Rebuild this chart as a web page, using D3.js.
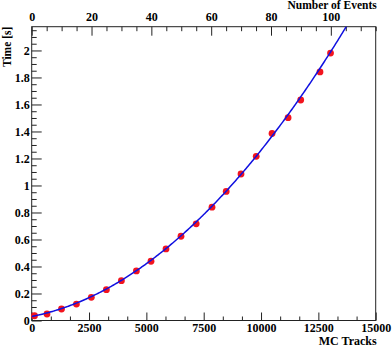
<!DOCTYPE html>
<html><head><meta charset="utf-8">
<script src="https://cdn.jsdelivr.net/npm/d3@7"></script>
<style>body{margin:0;background:#fff}svg{display:block}</style>
</head><body><svg id="c" width="392" height="352"></svg>
<script>
// ---- data ----
const mcTracks = [122, 667, 1300, 1950, 2600, 3257, 3911, 4565, 5202, 5856, 6510, 7172, 7862, 8481, 9127, 9790, 10480, 11180, 11730, 12570, 13030];
const timeSec  = [0.035, 0.048, 0.085, 0.122, 0.172, 0.228, 0.295, 0.367, 0.439, 0.530, 0.624, 0.716, 0.839, 0.956, 1.085, 1.216, 1.385, 1.502, 1.633, 1.841, 1.981];
const fitCoef = [0.03, 0.0332e-3, 0.00899e-6]; // pol2 fit: p0 + p1*x + p2*x^2
const xTicks = [0, 2500, 5000, 7500, 10000, 12500, 15000];
const yTicks = [0, 0.2, 0.4, 0.6, 0.8, 1, 1.2, 1.4, 1.6, 1.8, 2];
const topTicks = [0, 20, 40, 60, 80, 100];
const xTitle = "MC Tracks", yTitle = "Time  [s]", topTitle = "Number of Events";

const L = 31.7, R = 375.7, T = 26.7, B = 320.5;
const svg = d3.select("#c");
const font = "'Liberation Serif', 'Times New Roman', Times, serif";
const x = d3.scaleLinear().domain([0, 15000]).range([L, R]);
const y = d3.scaleLinear().domain([0, 2.176]).range([B, T]);
const xTop = d3.scaleLinear().domain([0, 115]).range([L, R]);

const fmt = d => String(+(+d).toFixed(1));
function styleAxis(g){
  g.attr("font-family", null).attr("font-size", null);
  g.select(".domain").remove();
  g.selectAll("line").attr("stroke", "#222").attr("stroke-width", 1);
  g.selectAll("text").style("font-family", font).style("font-weight", "bold").style("font-size", "12px").attr("fill", "#000");
}
// bottom axis
const xMinor = d3.range(0, 15001, 2500/3).filter(v => !xTicks.some(t => Math.abs(t - v) < 1));
svg.append("g").attr("transform", `translate(0,${B})`)
  .call(d3.axisBottom(x).tickValues(xMinor).tickSize(-4).tickFormat("")).call(styleAxis);
svg.append("g").attr("transform", `translate(0,${B})`)
  .call(d3.axisBottom(x).tickValues(xTicks).tickSize(-8).tickPadding(3).tickFormat(d3.format("d"))).call(styleAxis);
// left axis
const yMinor = d3.range(0, 2.176, 0.05).filter(v => !yTicks.some(t => Math.abs(t - v) < 1e-6));
svg.append("g").attr("transform", `translate(${L},0)`)
  .call(d3.axisLeft(y).tickValues(yMinor).tickSize(-5).tickFormat("")).call(styleAxis);
svg.append("g").attr("transform", `translate(${L},0)`)
  .call(d3.axisLeft(y).tickValues(yTicks).tickSize(-10).tickPadding(2).tickFormat(fmt)).call(styleAxis);
// top axis
const topMinor = d3.range(0, 116, 5).filter(v => v % 20 !== 0);
svg.append("g").attr("transform", `translate(0,${T})`)
  .call(d3.axisTop(xTop).tickValues(topMinor).tickSize(-4.5).tickFormat("")).call(styleAxis);
svg.append("g").attr("transform", `translate(0,${T})`)
  .call(d3.axisTop(xTop).tickValues(topTicks).tickSize(-9).tickPadding(6).tickFormat(d3.format("d"))).call(styleAxis);

// frame
svg.append("rect").attr("x", L).attr("y", T).attr("width", R - L).attr("height", B - T)
  .attr("fill", "none").attr("stroke", "#222").attr("stroke-width", 1);

// clip
svg.append("clipPath").attr("id", "clip").append("rect")
  .attr("x", L).attr("y", T).attr("width", R - L).attr("height", B - T);

// points
const pts = mcTracks.map((v, i) => ({x: v, y: timeSec[i]}));
svg.append("g").selectAll("circle").data(pts).join("circle")
  .attr("cx", d => x(d.x)).attr("cy", d => y(d.y)).attr("r", 3.4).attr("fill", "#f2141e");

// fit curve
const fitPts = d3.range(0, 15001, 50).map(v => ({x: v, y: fitCoef[0] + fitCoef[1]*v + fitCoef[2]*v*v}));
svg.append("path").datum(fitPts).attr("clip-path", "url(#clip)")
  .attr("d", d3.line().x(d => x(d.x)).y(d => y(d.y)))
  .attr("fill", "none").attr("stroke", "#1010e0").attr("stroke-width", 1.5);

// titles
function title(sel, size){ return sel.style("font-family", font).style("font-weight", "bold").style("font-size", size + "px"); }
title(svg.append("text").attr("x", R + 1).attr("y", 345).attr("text-anchor", "end"), 12).text(xTitle);
title(svg.append("text").attr("x", R + 1).attr("y", 8.5).attr("text-anchor", "end"), 11.5).text(topTitle);
title(svg.append("text").attr("transform", `translate(11,${T}) rotate(-90)`).attr("text-anchor", "end"), 11.5).text(yTitle);
</script></body></html>
